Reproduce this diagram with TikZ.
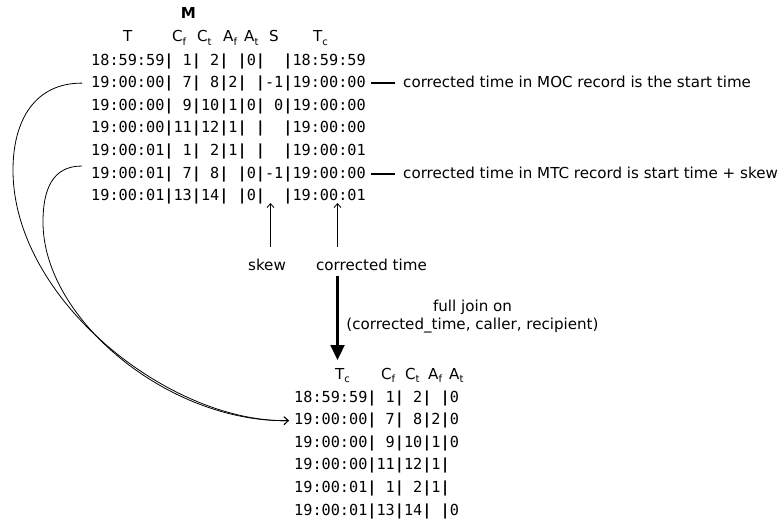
\documentclass[tikz,border=0pt]{standalone}
\usepackage{fontspec}
\setmainfont{DejaVu Sans}
\newfontfamily\tablefont{DejaVu Sans Mono}
\usetikzlibrary{arrows.meta}
% column separator of the record listings
\newcommand\vb{\textbf{|}}
% small lowered index for the column headings
\newcommand\sub[1]{\raisebox{-0.4ex}{\fontsize{10}{10}\selectfont #1}}
\tikzset{
  tabrow/.style={anchor=base west, inner sep=0pt, font=\tablefont\fontsize{15.2}{18}\selectfont},
  colhead/.style={anchor=base west, inner sep=0pt, font=\fontsize{15.1}{18}\selectfont},
  lbl/.style={anchor=base, inner sep=0pt, font=\fontsize{15.1}{18}\selectfont},
  remark/.style={anchor=base west, inner sep=0pt, font=\fontsize{15.1}{18}\selectfont},
  mapcurve/.style={line width=0.8pt, -{Straight Barb[length=4.5pt,width=8pt]}},
  pointer/.style={line width=0.8pt, -{Straight Barb[length=4pt,width=7pt]}},
  leader/.style={line width=2pt},
  joinarrow/.style={line width=2.3pt, -{Triangle[length=15pt,width=14pt]}}
}
\begin{document}
\begin{tikzpicture}[x=1pt,y=-1pt]
\useasboundingbox (0,0) rectangle (782,523);

% ---- source table ----
\node[anchor=base, inner sep=0pt, font=\bfseries\fontsize{15.1}{18}\selectfont] (M) at (188.5,18.3) {M};
\node[colhead] (hT)  at (123,41.7) {T};
\node[colhead] (hCf) at (172,41.7) {C\sub{f}};
\node[colhead] (hCt) at (197,41.7) {C\sub{t}};
\node[colhead] (hAf) at (223,41.7) {A\sub{f}};
\node[colhead] (hAt) at (244,41.7) {A\sub{t}};
\node[colhead] (hS)  at (269,41.7) {S};
\node[colhead] (hTc) at (313,41.7) {T\sub{c}};

\node[tabrow] (r1) at (91,65.0)  {18:59:59\vb~1\vb~2\vb~\vb0\vb~~\vb18:59:59};
\node[tabrow] (r2) at (91,87.6)  {19:00:00\vb~7\vb~8\vb2\vb~\vb-1\vb19:00:00};
\node[tabrow] (r3) at (91,110.2) {19:00:00\vb~9\vb10\vb1\vb0\vb~0\vb19:00:00};
\node[tabrow] (r4) at (91,132.8) {19:00:00\vb11\vb12\vb1\vb~\vb~~\vb19:00:00};
\node[tabrow] (r5) at (91,155.4) {19:00:01\vb~1\vb~2\vb1\vb~\vb~~\vb19:00:01};
\node[tabrow] (r6) at (91,178.0) {19:00:01\vb~7\vb~8\vb~\vb0\vb-1\vb19:00:00};
\node[tabrow] (r7) at (91,200.6) {19:00:01\vb13\vb14\vb~\vb0\vb~~\vb19:00:01};

% ---- remarks on the two records of one call ----
\node[remark] (n1) at (403,87.6) {corrected time in MOC record is the start time};
\node[remark] (n2) at (403,178.0) {corrected time in MTC record is start time + skew};
\draw[leader] ([xshift=5pt,yshift=4.6pt]r2.base east) -- ([xshift=-8pt,yshift=4.6pt]n1.base west);
\draw[leader] ([xshift=5pt,yshift=4.0pt]r6.base east) -- ([xshift=-8pt,yshift=4.0pt]n2.base west);

% ---- column pointers ----
\node[lbl] (skew) at (267,270) {skew};
\node[lbl] (ct) at (371.5,270) {corrected time};
\coordinate (skewtip) at (270.5,203);
\coordinate (cttip) at (337.5,203);
\draw[pointer] (skewtip |- 0,246.5) -- (skewtip);
\draw[pointer] (cttip |- 0,246.5) -- (cttip);

% ---- join step ----
\coordinate (jtop) at (337.5,276);
\coordinate (jend) at (337.5,360);
\draw[joinarrow] (jtop) -- (jend);
\node[lbl] (j1) at (472.5,311.7) {full join on};
\node[lbl] (j2) at (472.5,329) {(corrected\_time, caller, recipient)};

% ---- joined table ----
\node[colhead] (bTc) at (335,379) {T\sub{c}};
\node[colhead] (bCf) at (381,379) {C\sub{f}};
\node[colhead] (bCt) at (405,379) {C\sub{t}};
\node[colhead] (bAf) at (428,379) {A\sub{f}};
\node[colhead] (bAt) at (449,379) {A\sub{t}};

\node[tabrow] (b1) at (294,402.0) {18:59:59\vb~1\vb~2\vb~\vb0};
\node[tabrow] (b2) at (294,424.6) {19:00:00\vb~7\vb~8\vb2\vb0};
\node[tabrow] (b3) at (294,447.2) {19:00:00\vb~9\vb10\vb1\vb0};
\node[tabrow] (b4) at (294,469.8) {19:00:00\vb11\vb12\vb1\vb};
\node[tabrow] (b5) at (294,492.4) {19:00:01\vb~1\vb~2\vb1\vb};
\node[tabrow] (b6) at (294,515.0) {19:00:01\vb13\vb14\vb~\vb0};

% ---- both records of the call land on one joined row ----
\coordinate (s1) at ([xshift=-9pt,yshift=4.5pt]r2.base west);
\coordinate (s2) at ([xshift=-9pt,yshift=12pt]r6.base west);
\coordinate (tgt) at ([xshift=-5pt,yshift=4pt]b2.base west);
\draw[mapcurve] (s1) .. controls (35,83) and (13,120) .. (13,170)
                     .. controls (13,300) and (170,423) .. (tgt);
\draw[mapcurve] (s2) .. controls (52,166) and (43,190) .. (43,222)
                     .. controls (43,320) and (170,423) .. (tgt);
\end{tikzpicture}
\end{document}
